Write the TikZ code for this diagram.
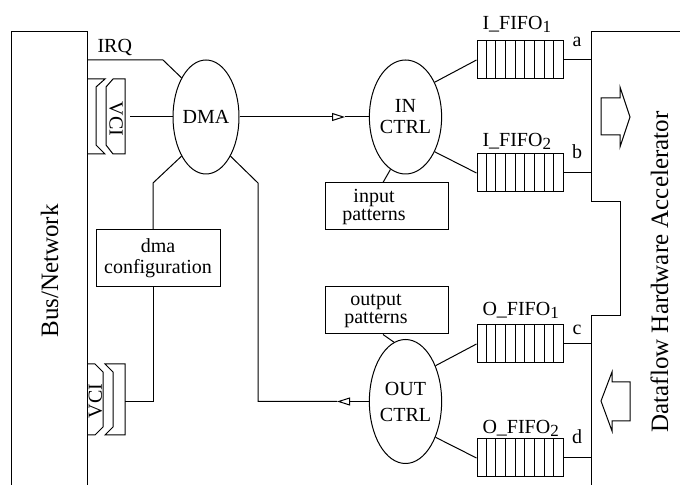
\documentclass[tikz,border=0pt]{standalone}
\usepackage{fontspec}
\setmainfont{Liberation Serif}
\usetikzlibrary{calc}
\usetikzlibrary{shapes.geometric}
\usetikzlibrary{arrows.meta}
\newcommand{\fifosub}[1]{\raisebox{-1.5pt}{\fontsize{8.5pt}{8.5pt}\selectfont #1}}

\begin{document}
\begin{tikzpicture}[x=0.5pt,y=-0.5pt,line width=0.5pt,
    font=\fontsize{10pt}{10.5pt}\selectfont,
    ctrl/.style={draw,ellipse,minimum width=33pt,minimum height=57pt,inner sep=0pt,align=center},
    cfgbox/.style={draw,inner sep=0pt},
    fifo/.style={draw,minimum width=43pt,minimum height=19pt,inner sep=0pt},
    lbl/.style={inner sep=0pt},
    bigtext/.style={font=\fontsize{12.5pt}{14pt}\selectfont},
    tip/.style={-{Triangle[open,length=6.5pt,width=4pt]}}]
  \useasboundingbox (0,0) rectangle (680,485);
  % bus and accelerator
  \draw (11,485) -- (11,32) -- (87,32) -- (87,485);
  \node[lbl,bigtext,rotate=90,anchor=base] (bus) at (58,271) {Bus/Network};
  \draw (680,32) -- (591,32) -- (591,202) -- (620,202) -- (620,316) -- (591,316) -- (591,485);
  \coordinate (acc) at (591,32);
  \node[lbl,bigtext,rotate=90,anchor=base] (accel) at (668,272) {Dataflow Hardware Accelerator};
  \draw (601,98) -- (620,98) -- (620,87) -- (630,117) -- (620,147) -- (620,135) -- (601,135) -- cycle;
  \draw (630,382) -- (612,382) -- (612,372) -- (601,401) -- (612,431) -- (612,421) -- (630,421) -- cycle;
  % vci
  \draw (87,79) -- (105,79) -- (96,87) -- (96,145) -- (105,154) -- (87,154);
  \draw (113,79) -- (125,79) -- (125,154) -- (113,154) -- (106,145) -- (106,87) -- cycle;
  \node[lbl,rotate=-90] (vci1) at (116,119) {VCI};
  \draw (87,364) -- (95,364) -- (103,372) -- (103,427) -- (95,435) -- (87,435);
  \draw (105,364) -- (125,364) -- (125,435) -- (105,435) -- (113,427) -- (113,372) -- cycle;
  \node[lbl,rotate=90] (vci2) at (95.5,401) {VCI};
  % controllers
  \node[ctrl] (dma) at (206,117) {DMA};
  \node[ctrl] (inctrl) at (405.5,117) {IN\\CTRL};
  \node[ctrl,minimum height=62pt] (outctrl) at (405.5,401.5) {OUT\\[2.5pt]CTRL};
  \node[cfgbox,minimum width=62pt,minimum height=28.5pt,align=center] (dmacfg) at (158,258.5) {dma\\configuration};
  \node[cfgbox,minimum width=61.5pt,minimum height=23.5pt] (inpat) at (386.5,206.5) {};
  \node[lbl,align=center,font=\fontsize{10pt}{9pt}\selectfont] (inpattxt) at (374,207) {input\\patterns};
  \node[cfgbox,minimum width=61.5pt,minimum height=23.5pt] (outpat) at (386.5,310.5) {};
  \node[lbl,align=center,font=\fontsize{10pt}{9pt}\selectfont] (outpattxt) at (376,311) {output\\patterns};
  \node[lbl,anchor=base west] (irq) at (97,53) {IRQ};
  \coordinate (irqend) at (87,60);
  \coordinate (vcitop) at (130,117);
  \coordinate (vcibot) at (125,401.5);
  \coordinate (intip) at (345,117);
  \coordinate (outtip) at (337,401.5);
  \draw (irqend) -- (163,60) -- (dma.122);
  \draw (vcitop) -- (dma.west);
  \draw[tip] (dma.east) -- (intip);
  \draw (intip) -- (inctrl.west);
  \draw (dma.-122) -- (153,183) -- ([xshift=-2.5pt]dmacfg.north);
  \draw (vcibot) -| ([xshift=-2.5pt]dmacfg.south);
  \draw[tip] (outctrl.west) -- (outtip);
  \draw (outtip) -- (258,401.5) -- (258,183) -- (dma.-58);
  \draw (inctrl.-106) -- ([xshift=-1.75pt]inpat.north);
  \draw ([xshift=-1.75pt]outpat.south) -- (outctrl.101);
  % fifos
  \foreach \nm/\yy in {ififo1/60,ififo2/173,ofifo1/344,ofifo2/458}{
    \node[fifo] (\nm) at (520,\yy) {};
    \foreach \i in {1,...,8}
      \draw ($(\nm.north west)!\i/9!(\nm.north east)$) -- ($(\nm.south west)!\i/9!(\nm.south east)$);
    \draw (\nm.east) -- (\nm.east -| acc);
  }
  \draw (inctrl.50) -- (ififo1.west);
  \draw (inctrl.-50) -- (ififo2.west);
  \draw (outctrl.50) -- (ofifo1.west);
  \draw (outctrl.-50) -- (ofifo2.west);
  \node[lbl,anchor=base west] (lif1) at (482,30) {I\_FIFO\fifosub{1}};
  \node[lbl,anchor=base west] (lif2) at (482,147) {I\_FIFO\fifosub{2}};
  \node[lbl,anchor=base west] (lof1) at (482,316) {O\_FIFO\fifosub{1}};
  \node[lbl,anchor=base west] (lof2) at (482,434) {O\_FIFO\fifosub{2}};
  \node[lbl,anchor=base] (la) at (577,47) {a};
  \node[lbl,anchor=base] (lb) at (577,159) {b};
  \node[lbl,anchor=base] (lc) at (577,335) {c};
  \node[lbl,anchor=base] (ld) at (577,444) {d};
\end{tikzpicture}
\end{document}
